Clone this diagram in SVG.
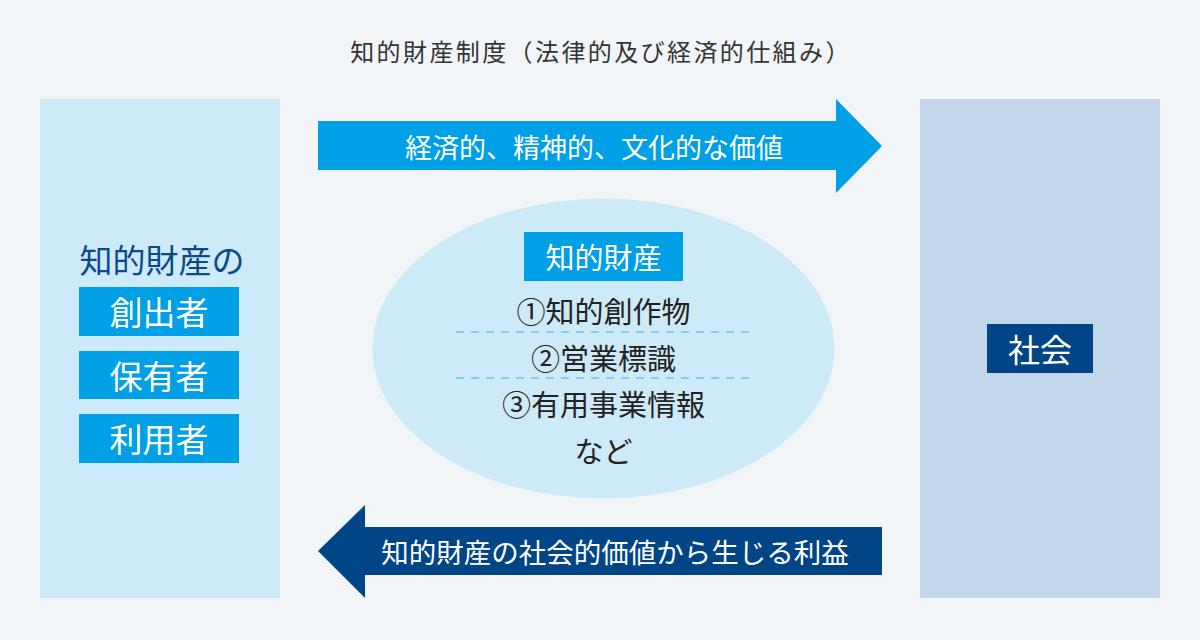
<svg xmlns="http://www.w3.org/2000/svg" width="1200" height="640" viewBox="0 0 1200 640">
<style>
text{font-family:"Noto Sans CJK JP","Noto Sans",sans-serif;text-anchor:middle;dominant-baseline:central}
.w{fill:#ffffff}
.d{fill:#222222}
.lb{fill:#00a0e6}
.db{fill:#004586}
</style>
<rect width="1200" height="640" fill="#f1f5f8"/>
<text x="601" y="50" font-size="24" letter-spacing="2.4" fill="#333333">知的財産制度（法律的及び経済的仕組み）</text>
<g id="creator">
<rect x="40" y="99" width="240" height="499" fill="#cdeaf9"/>
<text x="162" y="259" font-size="33" fill="#0b4a8a">知的財産の</text>
<rect class="lb" x="79" y="287" width="160" height="49"/>
<text class="w" x="159" y="311" font-size="33">創出者</text>
<rect class="lb" x="79" y="351" width="160" height="48"/>
<text class="w" x="159" y="375" font-size="33">保有者</text>
<rect class="lb" x="79" y="414" width="160" height="49"/>
<text class="w" x="159" y="438" font-size="33">利用者</text>
</g>
<g id="society">
<rect x="920" y="99" width="240" height="499" fill="#c2d6ea"/>
<rect class="db" x="987" y="324" width="106" height="49"/>
<text class="w" x="1040" y="348" font-size="32">社会</text>
</g>
<g id="ip">
<ellipse cx="603.5" cy="348.5" rx="231" ry="150" fill="#cdeaf9"/>
<rect class="lb" x="524" y="232" width="159" height="49"/>
<text class="w" x="603.5" y="256" font-size="29">知的財産</text>
<text class="d" x="603.5" y="310" font-size="29">①知的創作物</text>
<text class="d" x="603.5" y="357" font-size="29">②営業標識</text>
<text class="d" x="603.5" y="403" font-size="29">③有用事業情報</text>
<text class="d" x="603.5" y="450" font-size="29">など</text>
<g stroke="#3aaee6" stroke-width="1" stroke-dasharray="8,7">
<line x1="456" y1="332" x2="751" y2="332"/>
<line x1="456" y1="378" x2="751" y2="378"/>
</g>
</g>
<g id="connectors">
<polygon class="lb" points="318,121 836,121 836,99 882,146 836,193 836,170 318,170"/>
<text class="w" x="594" y="146" font-size="27">経済的、精神的、文化的な価値</text>
<polygon class="db" points="882,527 365,527 365,505 318,551 365,598 365,575 882,575"/>
<text class="w" x="615" y="551" font-size="27.5">知的財産の社会的価値から生じる利益</text>
</g>
</svg>
